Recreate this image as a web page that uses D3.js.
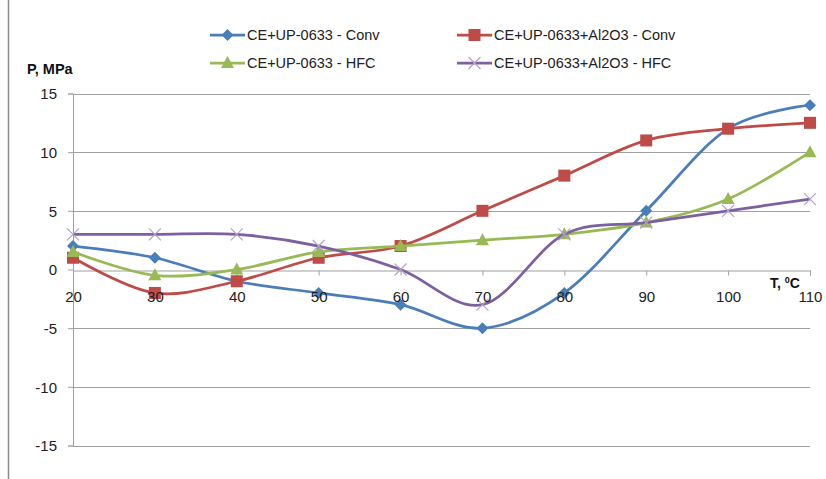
<!DOCTYPE html>
<html><head><meta charset="utf-8">
<script src="https://cdn.jsdelivr.net/npm/d3@7"></script>
<style>body{margin:0;background:#fff}svg{display:block}text{font-family:"Liberation Sans",Arial,sans-serif}</style>
</head><body><svg id="c" width="826" height="479"></svg>
<script>
const categories = [20, 30, 40, 50, 60, 70, 80, 90, 100, 110];
const conv = [2, 1, -1, -2, -3, -5, -2, 5, 12, 14];
const al2o3Conv = [1, -2, -1, 1, 2, 5, 8, 11, 12, 12.5];
const hfc = [1.5, -0.5, 0, 1.5, 2, 2.5, 3, 4, 6, 10];
const al2o3Hfc = [3, 3, 3, 2, 0, -3, 3, 4, 5, 6];
const yTicks = [-15, -10, -5, 0, 5, 10, 15];
const seriesNames = ["CE+UP-0633 - Conv", "CE+UP-0633+Al2O3 - Conv", "CE+UP-0633 - HFC", "CE+UP-0633+Al2O3 - HFC"];

(function(){
const series = [
  {name: seriesNames[0], values: conv, color: "#4A7EBB", marker: "diamond"},
  {name: seriesNames[1], values: al2o3Conv, color: "#BE4B48", marker: "square"},
  {name: seriesNames[2], values: hfc, color: "#98B954", marker: "triangle"},
  {name: seriesNames[3], values: al2o3Hfc, color: "#7D60A0", marker: "x"}
];

const svg = d3.select("#c");
const pL = 73, pR = 810, pT = 93.5, pB = 445.5;
const x = d3.scalePoint().domain(categories).range([pL, pR]);
const y = d3.scaleLinear().domain([-15, 15]).range([pB, pT]);

svg.append("line").attr("x1", 8.5).attr("x2", 8.5).attr("y1", 0).attr("y2", 479).attr("stroke", "#8c8c8c").attr("stroke-width", 1.5);

svg.append("g").selectAll("line").data(yTicks.filter(d => d !== 0)).join("line")
  .attr("x1", pL).attr("x2", pR)
  .attr("y1", d => Math.round(y(d)) + 0.5).attr("y2", d => Math.round(y(d)) + 0.5)
  .attr("stroke", "#a0a0a0").attr("stroke-width", 1);

const yAxis = d3.axisLeft(y).tickValues(yTicks).tickSize(5).tickFormat(d => String(d));
const gy = svg.append("g").attr("transform", `translate(${pL},0)`).call(yAxis);
gy.select(".domain").attr("stroke", "#a0a0a0");
gy.selectAll(".tick line").attr("stroke", "#a0a0a0");
gy.selectAll(".tick text").attr("font-size", 15).attr("fill", "#222").attr("x", -16).attr("dy", "0.35em");

const xAxis = d3.axisBottom(x).tickSize(5);
const gx = svg.append("g").attr("transform", `translate(0,${Math.round(y(0)) + 0.5})`).call(xAxis);
gx.select(".domain").attr("stroke", "#a0a0a0");
gx.selectAll(".tick line").attr("stroke", "#a0a0a0");
gx.selectAll(".tick text").attr("font-size", 15).attr("fill", "#222").attr("y", 21);

svg.append("text").attr("x", 27).attr("y", 74).attr("font-size", 14.5).attr("font-weight", "bold").attr("fill", "#111").text("P, MPa");
const tt = svg.append("text").attr("x", 770).attr("y", 288).attr("font-size", 14).attr("font-weight", "bold").attr("fill", "#111");
tt.append("tspan").text("T, ");
tt.append("tspan").attr("font-size", 9).attr("dy", -5).text("0");
tt.append("tspan").attr("dy", 5).text("C");

const line = d3.line().x((d, i) => x(categories[i])).y(d => y(d)).curve(d3.curveCatmullRom.alpha(0));

function marker(g, type, color, cx, cy) {
  if (type === "diamond") {
    g.append("path").attr("d", `M${cx},${cy-6}L${cx+6},${cy}L${cx},${cy+6}L${cx-6},${cy}Z`).attr("fill", color);
  } else if (type === "square") {
    g.append("rect").attr("x", cx-6).attr("y", cy-6).attr("width", 12).attr("height", 12).attr("fill", color);
  } else if (type === "triangle") {
    g.append("path").attr("d", `M${cx},${cy-7}L${cx+6.5},${cy+5}L${cx-6.5},${cy+5}Z`).attr("fill", color);
  } else {
    g.append("path").attr("d", `M${cx-6},${cy-6}L${cx+6},${cy+6}M${cx+6},${cy-6}L${cx-6},${cy+6}`).attr("stroke", "#b3a2c7").attr("stroke-width", 1.2).attr("fill", "none");
  }
}

series.forEach(s => {
  const g = svg.append("g");
  g.append("path").datum(s.values).attr("d", line).attr("fill", "none").attr("stroke", s.color).attr("stroke-width", 2.75);
  s.values.forEach((v, i) => marker(g, s.marker, s.color, x(categories[i]), y(v)));
});
gx.selectAll(".tick text").raise();
const labels = svg.append("g");
gx.selectAll(".tick").each(function(){ labels.node().appendChild(this.cloneNode(true)); });
labels.attr("transform", gx.attr("transform")).attr("font-family", null).attr("text-anchor", "middle").selectAll("line").remove();
gx.selectAll(".tick text").remove();

const legPos = [[210, 35], [457, 35], [210, 63], [457, 63]];
series.forEach((s, i) => {
  const [lx, ly] = legPos[i];
  const g = svg.append("g");
  g.append("line").attr("x1", lx).attr("x2", lx + 35).attr("y1", ly).attr("y2", ly).attr("stroke", s.color).attr("stroke-width", 2.75);
  marker(g, s.marker, s.color, lx + 17.5, ly);
  g.append("text").attr("x", lx + 37).attr("y", ly + 5).attr("font-size", 14.5).attr("fill", "#222").text(s.name);
});
})();
</script></body></html>
